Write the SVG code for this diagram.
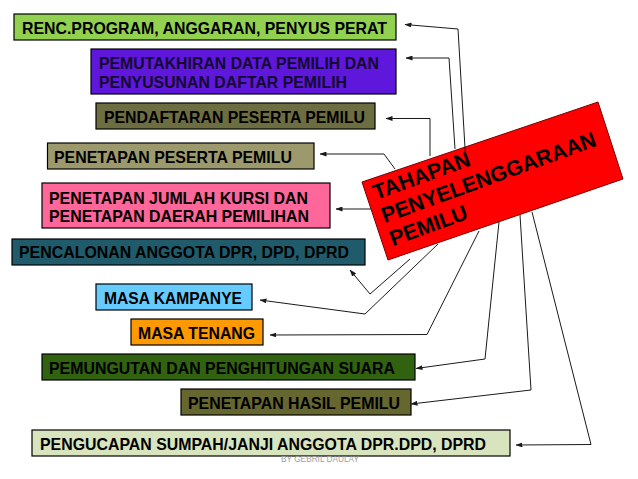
<svg xmlns="http://www.w3.org/2000/svg" width="638" height="479" viewBox="0 0 638 479">
<style>
.b{stroke:#000;stroke-width:1.2}
.t{font-family:"Liberation Sans",Arial,sans-serif;font-weight:bold;font-size:16.5px;fill:#000}
.c{fill:none;stroke:#1a1a1a;stroke-width:1;marker-end:url(#ah)}
.r{font-family:"Liberation Sans",Arial,sans-serif;font-weight:bold;font-size:21.5px;fill:#000}
</style>
<defs>
<marker id="ah" markerUnits="userSpaceOnUse" markerWidth="7" markerHeight="5" refX="6.5" refY="2.5" orient="auto">
<path d="M0,0 L7,2.5 L0,5 z" fill="#1a1a1a"/>
</marker>
</defs>
<rect width="638" height="479" fill="#fff"/>
<g id="n1"><rect class="b" x="14" y="14" width="382" height="26" fill="#92D050"/><text class="t" x="22" y="33.5" textLength="365" lengthAdjust="spacingAndGlyphs">RENC.PROGRAM, ANGGARAN, PENYUS PERAT</text></g>
<g id="n2"><rect class="b" x="91" y="49" width="305" height="45" fill="#5E17DB"/><text class="t" x="99" y="68.5" textLength="280" lengthAdjust="spacingAndGlyphs" style="fill:#140a30">PEMUTAKHIRAN DATA PEMILIH DAN</text><text class="t" x="99" y="87.5" textLength="248" lengthAdjust="spacingAndGlyphs" style="fill:#140a30">PENYUSUNAN DAFTAR PEMILIH</text></g>
<g id="n3"><rect class="b" x="96" y="103" width="279" height="26" fill="#6D6D42"/><text class="t" x="104" y="122.5" textLength="261" lengthAdjust="spacingAndGlyphs">PENDAFTARAN PESERTA PEMILU</text></g>
<g id="n4"><rect class="b" x="47.5" y="143" width="266.5" height="26" fill="#9C9A6C"/><text class="t" x="54" y="162.5" textLength="238" lengthAdjust="spacingAndGlyphs">PENETAPAN PESERTA PEMILU</text></g>
<g id="n5"><rect class="b" x="42" y="183" width="288" height="45" fill="#FF6699"/><text class="t" x="49" y="204" textLength="259" lengthAdjust="spacingAndGlyphs">PENETAPAN JUMLAH KURSI DAN</text><text class="t" x="49" y="222" textLength="260" lengthAdjust="spacingAndGlyphs">PENETAPAN DAERAH PEMILIHAN</text></g>
<g id="n6"><rect class="b" x="12" y="239" width="353" height="26" fill="#1F5B6B"/><text class="t" x="19" y="258" textLength="330" lengthAdjust="spacingAndGlyphs">PENCALONAN ANGGOTA DPR, DPD, DPRD</text></g>
<g id="n7"><rect class="b" x="96" y="284" width="156" height="26" fill="#66CCFF"/><text class="t" x="104" y="304" textLength="138" lengthAdjust="spacingAndGlyphs">MASA KAMPANYE</text></g>
<g id="n8"><rect class="b" x="131" y="319" width="132" height="26" fill="#FF9900"/><text class="t" x="138" y="339" textLength="117" lengthAdjust="spacingAndGlyphs">MASA TENANG</text></g>
<g id="n9"><rect class="b" x="42" y="354" width="373" height="26" fill="#316210"/><text class="t" x="49" y="374" textLength="346" lengthAdjust="spacingAndGlyphs">PEMUNGUTAN DAN PENGHITUNGAN SUARA</text></g>
<g id="n10"><rect class="b" x="181" y="389" width="230" height="26" fill="#66662F"/><text class="t" x="188" y="409" textLength="212" lengthAdjust="spacingAndGlyphs">PENETAPAN HASIL PEMILU</text></g>
<g id="n11"><rect class="b" x="32" y="430" width="478" height="26" fill="#D7E4BD"/><text class="t" x="40" y="450" textLength="446" lengthAdjust="spacingAndGlyphs">PENGUCAPAN SUMPAH/JANJI ANGGOTA DPR.DPD, DPRD</text></g>
<g id="center"><polygon points="362,182 598,102 623,179 388,260" fill="#FF0000" stroke="#7a0000" stroke-width="1"/>
<g transform="translate(376,200) rotate(-20)"><text class="r" x="0" y="0">TAHAPAN</text><text class="r" x="0" y="24.6">PENYELENGGARAAN</text><text class="r" x="0" y="49.2">PEMILU</text></g></g>
<g id="connectors">
<path class="c" d="M466,165 L458,29 L405,24.5"/>
<path class="c" d="M455,149 L449,58 L406,58"/>
<path class="c" d="M430,156 L430,118.5 L386,118.5"/>
<path class="c" d="M395,169 L384,154 L320,154"/>
<path class="c" d="M371,209 L336,209"/>
<path class="c" d="M410,259 L370,294 L350,270"/>
<path class="c" d="M438,244 L365,314 L260,300"/>
<path class="c" d="M479,231 L427,334.5 L270,335"/>
<path class="c" d="M499,222 L485,359 L416,368.5"/>
<path class="c" d="M520,215 L531,390 L411,404"/>
<path class="c" d="M532,212 L591,444.5 L516,445"/>
</g>
<text x="281" y="462" font-family="Liberation Sans,Arial,sans-serif" font-size="9" fill="#a0a0a0" textLength="78" lengthAdjust="spacingAndGlyphs">BY GEBRIL DAULAY</text>
</svg>
